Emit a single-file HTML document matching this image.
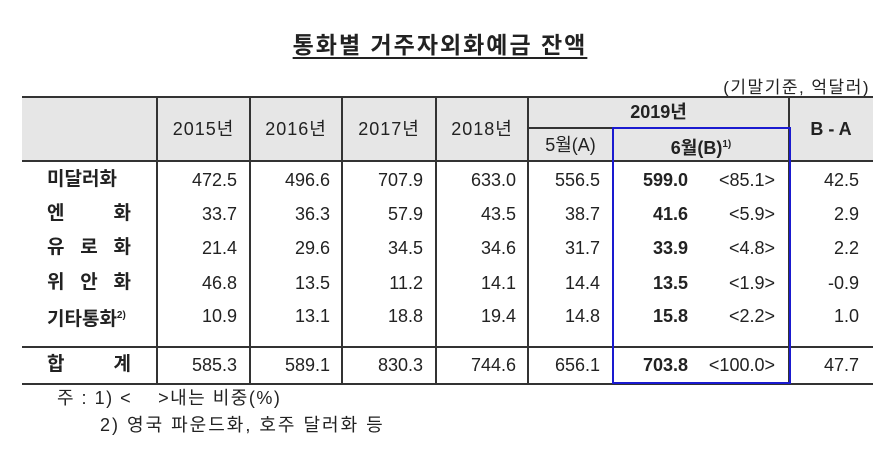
<!DOCTYPE html><html><head><meta charset="utf-8"><style>
body{margin:0;width:895px;height:452px;background:#fff;position:relative;overflow:hidden;font-family:"Liberation Sans","Noto Sans CJK KR",sans-serif;color:#222}
.t{position:absolute;font-size:18px;line-height:20px;white-space:nowrap}
.r{text-align:right}.c{text-align:center}.b{font-weight:bold}
.h{position:absolute;height:1.5px;background:#333}
.v{position:absolute;width:1.5px;background:#333}
.y{letter-spacing:1px}
.lab{font-size:19px;font-weight:bold;text-align:justify;text-align-last:justify;left:47px;width:84px}
sup{font-size:10px;vertical-align:7px}
</style></head><body>
<div style="position:absolute;left:22px;top:97px;width:851px;height:64px;background:#e6e6e6"></div>
<div class="t b c" style="left:190px;top:32px;width:500px;font-size:23px;line-height:26px;letter-spacing:2px"><span style="text-decoration:underline;text-underline-offset:4px">통화별 거주자외화예금 잔액</span></div>
<div class="t r" style="left:560px;top:78px;width:310px;font-size:17px;letter-spacing:1.5px">(기말기준, 억달러)</div>
<div class="h" style="left:22px;top:96px;width:851px"></div>
<div class="h" style="left:528px;top:127px;width:261px"></div>
<div class="h" style="left:22px;top:160px;width:851px"></div>
<div class="h" style="left:22px;top:346px;width:851px"></div>
<div class="h" style="left:22px;top:383px;width:851px"></div>
<div class="v" style="left:156px;top:97px;height:287px"></div>
<div class="v" style="left:249px;top:97px;height:287px"></div>
<div class="v" style="left:341px;top:97px;height:287px"></div>
<div class="v" style="left:435px;top:97px;height:287px"></div>
<div class="v" style="left:527px;top:97px;height:287px"></div>
<div class="v" style="left:788px;top:97px;height:287px"></div>
<div style="position:absolute;left:612px;top:127px;width:175px;height:253px;border:2px solid #1a1ad0"></div>
<div class="t c y" style="left:157px;top:119px;width:93px">2015년</div>
<div class="t c y" style="left:250px;top:119px;width:92px">2016년</div>
<div class="t c y" style="left:342px;top:119px;width:94px">2017년</div>
<div class="t c y" style="left:436px;top:119px;width:92px">2018년</div>
<div class="t c b" style="left:528px;top:102px;width:261px">2019년</div>
<div class="t c" style="left:528px;top:135px;width:85px">5월(A)</div>
<div class="t c b" style="left:613px;top:135px;width:176px">6월(B)<sup>1)</sup></div>
<div class="t c b" style="left:789px;top:119px;width:84px">B - A</div>
<div class="t lab" style="top:170px">미달러화</div>
<div class="t lab" style="top:204px">엔 화</div>
<div class="t lab" style="top:238px">유 로 화</div>
<div class="t lab" style="top:273px">위 안 화</div>
<div class="t b" style="left:47px;top:306px;width:110px;font-size:19px">기타통화<sup>2)</sup></div>
<div class="t lab" style="top:355px">합 계</div>
<div id="rows"></div>
<script>
var d=[[180,"472.5","496.6","707.9","633.0","556.5","599.0","<85.1>","42.5"],
[214,"33.7","36.3","57.9","43.5","38.7","41.6","<5.9>","2.9"],
[248,"21.4","29.6","34.5","34.6","31.7","33.9","<4.8>","2.2"],
[283,"46.8","13.5","11.2","14.1","14.4","13.5","<1.9>","-0.9"],
[316,"10.9","13.1","18.8","19.4","14.8","15.8","<2.2>","1.0"],
[365,"585.3","589.1","830.3","744.6","656.1","703.8","<100.0>","47.7"]];
var rights=[237,330,423,516,600,688,775,859],h="";
d.forEach(function(r){for(var i=1;i<r.length;i++){var cls="t r"+(i==6?" b":"");
h+='<div class="'+cls+'" style="left:'+(rights[i-1]-100)+'px;top:'+(r[0]-10)+'px;width:100px">'+r[i].replace(/</g,"&lt;").replace(/>/g,"&gt;")+'</div>';}});
document.getElementById("rows").innerHTML=h;
</script>
<div class="t" style="left:57px;top:388px;font-size:18px;letter-spacing:1.5px">주 : 1) &lt;&nbsp;&nbsp;&nbsp;&nbsp;&gt;내는 비중(%)</div>
<div class="t" style="left:100px;top:415px;font-size:18px;letter-spacing:2px">2) 영국 파운드화, 호주 달러화 등</div>
</body></html>
